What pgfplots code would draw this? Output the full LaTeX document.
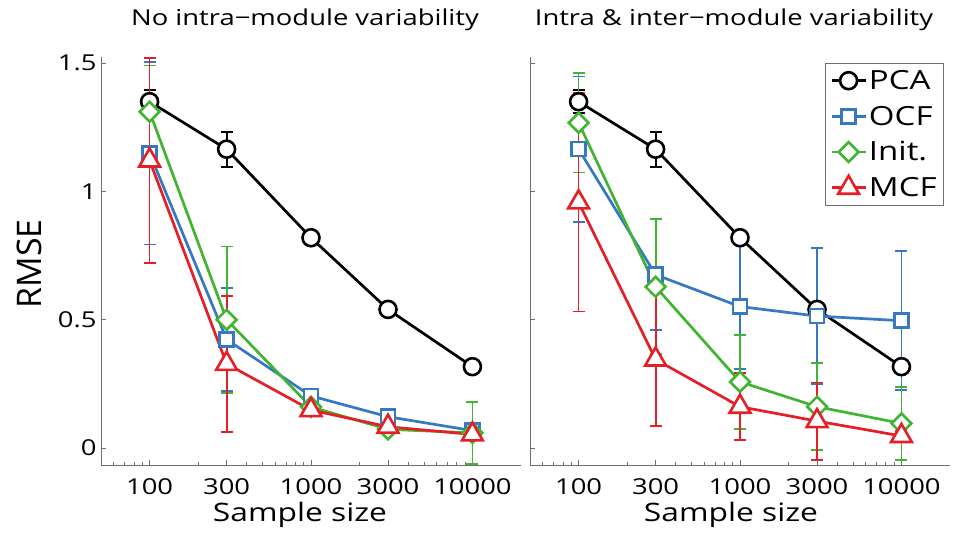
\documentclass[border=0pt]{standalone}
\usepackage{fontspec}
\setmainfont{Open Sans}[FakeStretch=1.25]
\newfontfamily\plainfont{Open Sans}
\usepackage{pgfplots}
\pgfplotsset{compat=1.18}

\definecolor{cblue}{RGB}{55,120,195}
\definecolor{cgreen}{RGB}{65,180,50}
\definecolor{cred}{RGB}{230,30,40}
\definecolor{axgray}{RGB}{110,110,110}

\pgfplotsset{
  every axis plot/.append style={line width=2.7bp},
  plotpca/.style={black, mark=*, mark size=8.5bp, mark options={fill=white, draw=black, line width=2.6bp},
    error bars/y dir=both, error bars/y explicit,
    error bars/error bar style={line width=1.8bp},
    error bars/error mark options={rotate=90, mark size=6bp, line width=1.8bp}},
  plotocf/.style={cblue, mark=square*, mark size=7bp, mark options={fill=white, draw=cblue, line width=2.6bp},
    error bars/y dir=both, error bars/y explicit,
    error bars/error bar style={line width=1.8bp},
    error bars/error mark options={rotate=90, mark size=6bp, line width=1.8bp}},
  plotini/.style={cgreen, mark=square*, mark size=7bp, mark options={rotate=45, fill=white, draw=cgreen, line width=2.6bp},
    error bars/y dir=both, error bars/y explicit,
    error bars/error bar style={line width=1.8bp},
    error bars/error mark options={rotate=90, mark size=6bp, line width=1.8bp}},
  plotmcf/.style={cred, mark=triangle*, mark size=12bp, mark options={fill=white, draw=cred, line width=2.6bp},
    error bars/y dir=both, error bars/y explicit,
    error bars/error bar style={line width=1.8bp},
    error bars/error mark options={rotate=90, mark size=6bp, line width=1.8bp}},
}

\begin{document}
\begin{tikzpicture}
\path[use as bounding box] (-101bp,-74bp) rectangle (854bp,465bp);

\begin{axis}[at={(0,0)}, anchor=south west,
  xmode=log, xmin=50, xmax=20000, ymin=-0.066, ymax=1.523,
  scale only axis, width=420bp, height=408bp,
  axis x line*=bottom, axis y line*=left,
  axis line style={axgray, line width=0.8bp},
  tick style={axgray, line width=0.6bp},
  tick align=inside,
  major tick length=5bp, minor tick length=3bp,
  xtick={100,300,1000,3000,10000},
  xticklabels={100,300,1000,3000,10000},
  minor xtick={60,70,80,90,200,400,500,600,700,800,900,2000,4000,5000,6000,7000,8000,9000},
  ytick={0,0.5,1,1.5},
  yticklabels={0,0.5,1,1.5},
  ticklabel style={font=\fontsize{22}{22}\selectfont},
  xticklabel style={yshift=-10bp},
  yticklabel style={xshift=-1bp},
  title style={font=\fontsize{22}{22}\selectfont, at={(axis description cs:0.5,1)}, anchor=base, yshift=25.5bp, xshift=-6bp},
  xlabel style={font=\fontsize{25.5}{25.5}\selectfont, at={(axis description cs:0.5,0)}, anchor=base, yshift=-56bp, xshift=-11bp},
  ylabel style={font=\plainfont\fontsize{34}{34}\selectfont, at={(axis description cs:-0.1702,0.493)}, anchor=center},
  xlabel={Sample size},
  clip=false,
  title={No intra−module variability},
  ylabel={RMSE},
]
\addplot[plotpca] coordinates {(100,1.349) +- (0,0.045) (300,1.164) +- (0,0.068) (1000,0.819) +- (0,0.02) (3000,0.540) +- (0,0.015) (10000,0.317) +- (0,0.015)};
\addplot[plotocf] coordinates {(100,1.148) +- (0,0.355) (300,0.423) +- (0,0.20) (1000,0.203) +- (0,0.02) (3000,0.122) +- (0,0.015) (10000,0.068) +- (0,0.015)};
\addplot[plotini] coordinates {(100,1.310) +- (0,0.18) (300,0.500) +- (0,0.285) (1000,0.160) +- (0,0.02) (3000,0.073) +- (0,0.015) (10000,0.059) +- (0,0.12)};
\addplot[plotmcf] coordinates {(100,1.120) +- (0,0.40) (300,0.328) +- (0,0.264) (1000,0.148) +- (0,0.02) (3000,0.083) +- (0,0.015) (10000,0.053) +- (0,0.015)};
\end{axis}

\begin{axis}[at={(429bp,0)}, anchor=south west,
  xmode=log, xmin=50, xmax=20000, ymin=-0.066, ymax=1.523,
  scale only axis, width=420bp, height=408bp,
  axis x line*=bottom, axis y line*=left,
  axis line style={axgray, line width=0.8bp},
  tick style={axgray, line width=0.6bp},
  tick align=inside,
  major tick length=5bp, minor tick length=3bp,
  xtick={100,300,1000,3000,10000},
  xticklabels={100,300,1000,3000,10000},
  minor xtick={60,70,80,90,200,400,500,600,700,800,900,2000,4000,5000,6000,7000,8000,9000},
  ytick={0,0.5,1,1.5},
  yticklabels={},
  ticklabel style={font=\fontsize{22}{22}\selectfont},
  xticklabel style={yshift=-10bp},
  title style={font=\fontsize{22}{22}\selectfont, at={(axis description cs:0.5,1)}, anchor=base, yshift=25.5bp, xshift=-6bp},
  xlabel style={font=\fontsize{25.5}{25.5}\selectfont, at={(axis description cs:0.5,0)}, anchor=base, yshift=-56bp, xshift=-9bp},
  xlabel={Sample size},
  clip=false,
  title={Intra \& inter−module variability},
  legend style={at={(1,1)}, anchor=north east, xshift=-6bp, yshift=-6bp,
    draw=axgray, line width=0.8bp, font=\fontsize{26.5}{26.5}\selectfont,
    inner sep=5bp, row sep=11bp},
  legend cell align=left,
  legend image code/.code={\draw[mark repeat=2, mark phase=2] plot coordinates {(0bp,0bp) (17bp,0bp) (34bp,0bp)};},
]
\addplot[plotpca] coordinates {(100,1.349) +- (0,0.045) (300,1.164) +- (0,0.068) (1000,0.819) +- (0,0.02) (3000,0.540) +- (0,0.015) (10000,0.317) +- (0,0.015)};
\addplot[plotocf] coordinates {(100,1.164) +- (0,0.283) (300,0.675) +- (0,0.215) (1000,0.551) +- (0,0.243) (3000,0.514) +- (0,0.265) (10000,0.496) +- (0,0.27)};
\addplot[plotini] coordinates {(100,1.267) +- (0,0.194) (300,0.628) +- (0,0.263) (1000,0.258) +- (0,0.183) (3000,0.161) +- (0,0.17) (10000,0.096) +- (0,0.142)};
\addplot[plotmcf] coordinates {(100,0.957) +- (0,0.425) (300,0.345) +- (0,0.26) (1000,0.161) +- (0,0.13) (3000,0.105) +- (0,0.15) (10000,0.047) +- (0,0.02)};
\legend{PCA, OCF, Init., MCF}
\end{axis}
\end{tikzpicture}
\end{document}
